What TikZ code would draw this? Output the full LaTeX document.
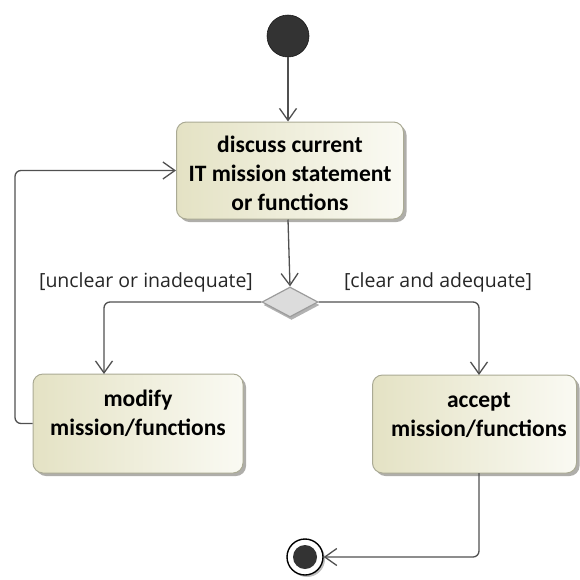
\documentclass[tikz,border=0pt]{standalone}
\usepackage{fontspec}
\setmainfont{Carlito}
\newfontfamily\guardfont{Open Sans}
\usetikzlibrary{arrows.meta,shapes.geometric,shadows}

\definecolor{boxleft}{HTML}{E4E2C4}
\definecolor{boxright}{HTML}{FAFAF3}
\definecolor{boxline}{HTML}{AAAA94}
\definecolor{flowline}{HTML}{505050}
\definecolor{solid}{HTML}{333333}
\definecolor{diafill}{HTML}{DCDCDC}
\definecolor{diaborder}{HTML}{9C9C9C}

\tikzset{
  actbox/.style={rectangle, rounded corners=10pt, draw=boxline, line width=1pt,
    left color=boxleft, right color=boxright, inner sep=0pt,
    drop shadow={shadow xshift=3pt, shadow yshift=-3pt, fill=black!80!olive, opacity=0.4}},
  acttext/.style={align=center, font=\fontsize{23.5}{29}\selectfont\bfseries, text=black, inner sep=0pt},
  guard/.style={font=\guardfont\fontsize{19.5}{23}\selectfont, text=black!85, inner sep=0pt},
  flow/.style={draw=flowline, line width=1.3pt, rounded corners=6pt,
    -{Straight Barb[length=12pt,width=17pt,line width=1.3pt]}},
  startnode/.style={circle, fill=solid, draw=black!90, line width=0.6pt, minimum size=42pt, inner sep=0pt},
  endring/.style={circle, fill=white, draw=black, line width=1.4pt, minimum size=36pt, inner sep=0pt,
    drop shadow={shadow xshift=2pt, shadow yshift=-2pt, fill=black, opacity=0.25}},
  enddot/.style={circle, fill=solid, minimum size=24pt, inner sep=0pt},
  decide/.style={diamond, fill=diafill, draw=diaborder, line width=1.2pt, inner sep=0pt,
    minimum width=56pt, minimum height=30pt,
    drop shadow={shadow xshift=1.5pt, shadow yshift=-3pt, fill=black, opacity=0.3}}
}

\begin{document}
\begin{tikzpicture}[x=1pt,y=-1pt]
  \useasboundingbox (0,0) rectangle (580,579);

  % start
  \node[startnode] (init) at (288,36) {};

  % activities
  \node[actbox, minimum width=227pt, minimum height=97pt] (discuss) at (290,170.5) {};
  \node[acttext] (discussT) at (290,173) {discuss current\\IT mission statement\\or functions};

  \node[actbox, minimum width=210pt, minimum height=99pt] (modify) at (138,423.5) {};
  \node[acttext] (modifyT) at (138,413) {modify\\mission/functions};

  \node[actbox, minimum width=204pt, minimum height=98pt] (accept) at (474.5,424) {};
  \node[acttext] (acceptT) at (479,415) {accept\\mission/functions};

  % decision
  \node[decide] (dec) at (290,302) {};

  % guards
  \node[guard] (gLeft) at (146,282) {[unclear or inadequate]};
  \node[guard] (gRight) at (438,282) {[clear and adequate]};

  % final
  \node[endring] (final) at (305,557) {};
  \node[enddot] (finalDot) at (final.center) {};

  % bend points
  \coordinate (modIn) at (104,374);
  \coordinate (accIn) at (479,375);
  \coordinate (accOut) at (479,473);
  \coordinate (loopCorner) at (15,423.5);

  % flows
  \draw[flow] (init.south) -- (init.south |- discuss.north);
  \draw[flow] (init.south |- discuss.south) -- (dec.north);
  \draw[flow] (dec.west) -| (modIn);
  \draw[flow] (dec.east) -| (accIn);
  \draw[flow] (accOut) |- (final.east);
  \draw[flow] (modify.west) -- (loopCorner) |- (discuss.west);
\end{tikzpicture}
\end{document}
